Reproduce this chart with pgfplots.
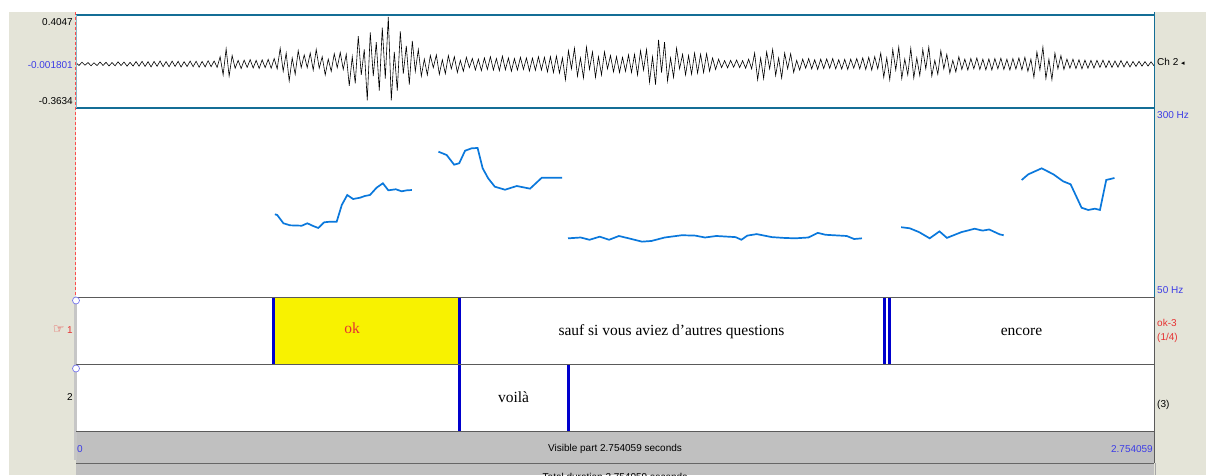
\documentclass[border=0pt]{standalone}
\usepackage{pgfplots}
\pgfplotsset{compat=1.18}
\usepackage{pgfplotstable}
\usepackage{fontspec}
\setmainfont{Liberation Sans}
\newfontfamily\serifp{Liberation Serif}
\newfontfamily\dejavu{DejaVu Sans}
\definecolor{beige}{RGB}{228,228,216}
\definecolor{barg}{RGB}{192,192,192}
\definecolor{frameb}{RGB}{20,110,150}
\definecolor{pitchc}{RGB}{10,120,220}
\definecolor{bnd}{RGB}{0,0,205}
\definecolor{yel}{RGB}{248,242,0}
\definecolor{lblb}{RGB}{60,60,230}
\definecolor{lblr}{RGB}{230,50,50}
\definecolor{tierl}{RGB}{90,90,90}

\pgfplotstableread[row sep=\\,header=false]{
0.010\\-0.012\\0.015\\-0.010\\0.012\\-0.015\\0.010\\-0.013\\0.016\\-0.012\\
0.014\\-0.016\\0.012\\-0.015\\0.018\\-0.013\\0.016\\-0.018\\0.014\\-0.017\\
0.020\\-0.018\\0.022\\-0.020\\0.019\\-0.024\\0.021\\-0.019\\0.025\\-0.022\\
0.020\\-0.023\\0.024\\-0.020\\0.022\\-0.025\\0.019\\-0.021\\0.024\\-0.022\\
0.023\\-0.026\\0.021\\-0.024\\0.027\\-0.022\\0.025\\-0.028\\
0.060\\-0.090\\0.125\\-0.100\\0.070\\
-0.035\\0.030\\-0.038\\0.032\\-0.028\\0.036\\-0.033\\0.030\\-0.037\\0.034\\-0.030\\0.038\\-0.035\\0.045\\
-0.040\\0.130\\-0.060\\0.090\\-0.140\\0.050\\-0.085\\0.110\\-0.030\\
0.075\\-0.030\\0.090\\-0.050\\0.120\\-0.035\\0.060\\-0.090\\0.040\\-0.060\\0.085\\-0.030\\0.095\\-0.045\\
0.080\\-0.180\\0.060\\-0.160\\0.230\\-0.090\\0.120\\-0.300\\0.260\\-0.100\\0.180\\-0.220\\0.300\\-0.120\\0.390\\-0.300\\0.100\\-0.220\\0.270\\-0.080\\0.150\\-0.170\\0.190\\-0.060\\0.120\\
-0.100\\0.040\\-0.090\\0.070\\-0.030\\0.075\\-0.085\\0.035\\-0.080\\0.070\\-0.040\\0.060\\-0.070\\0.030\\-0.060\\0.055\\-0.030\\
0.045\\-0.050\\0.040\\-0.055\\0.050\\-0.045\\0.060\\-0.050\\0.045\\-0.055\\0.065\\-0.048\\0.050\\-0.060\\0.045\\-0.050\\0.055\\-0.045\\0.050\\-0.058\\0.048\\-0.052\\0.060\\-0.050\\0.055\\-0.065\\0.060\\-0.070\\0.065\\-0.075\\
0.050\\-0.130\\0.110\\-0.040\\0.130\\-0.100\\0.050\\-0.115\\0.140\\-0.045\\0.100\\-0.110\\0.060\\-0.090\\0.100\\-0.040\\
0.070\\-0.065\\0.060\\-0.070\\0.055\\-0.060\\0.075\\-0.070\\0.080\\-0.090\\
0.110\\-0.050\\0.120\\-0.150\\0.060\\-0.170\\0.200\\-0.070\\0.180\\-0.140\\0.050\\-0.110\\0.130\\-0.040\\
0.080\\-0.090\\0.070\\-0.085\\0.090\\-0.075\\0.080\\-0.070\\0.085\\-0.060\\0.050\\-0.045\\0.040\\
-0.030\\0.028\\-0.032\\0.030\\-0.027\\0.033\\-0.030\\0.028\\-0.035\\0.040\\
-0.040\\0.090\\-0.130\\0.050\\-0.120\\0.100\\-0.040\\0.120\\-0.095\\0.050\\-0.115\\0.090\\-0.040\\0.085\\-0.070\\0.030\\-0.050\\
0.040\\-0.035\\0.045\\-0.040\\0.035\\-0.045\\0.040\\-0.038\\0.042\\-0.036\\0.045\\-0.040\\0.035\\-0.042\\0.038\\-0.045\\0.040\\-0.035\\0.045\\-0.040\\0.050\\-0.045\\0.055\\-0.050\\0.060\\
-0.040\\0.090\\-0.110\\0.050\\-0.130\\0.120\\-0.050\\0.140\\-0.120\\0.040\\-0.090\\0.130\\-0.115\\0.050\\-0.095\\0.120\\-0.040\\0.140\\-0.100\\0.030\\-0.085\\0.110\\-0.040\\0.080\\-0.075\\0.030\\-0.065\\0.060\\
-0.045\\0.040\\-0.050\\0.045\\-0.040\\0.050\\-0.045\\0.040\\-0.048\\0.042\\-0.050\\0.045\\-0.040\\0.048\\-0.045\\0.040\\-0.050\\0.045\\-0.042\\0.050\\-0.048\\0.055\\-0.060\\
0.040\\-0.110\\0.100\\-0.050\\0.140\\-0.120\\0.040\\-0.130\\0.090\\-0.040\\0.070\\
-0.045\\0.040\\-0.035\\0.040\\-0.038\\0.035\\-0.040\\0.032\\-0.035\\0.030\\-0.034\\0.030\\-0.028\\0.032\\-0.030\\0.027\\-0.028\\0.025\\-0.026\\0.028\\-0.024\\0.022\\-0.025\\0.021\\-0.020\\0.022\\-0.018\\0.020\\-0.017\\0.018\\-0.015\\
}\wave

\begin{document}
\begin{tikzpicture}[x=1pt,y=1pt]
\fill[white] (0,0) rectangle (1206,-475);
\fill[beige] (9,-12) rectangle (76,-475);
\fill[beige] (1154,-12) rectangle (1206,-475);
\fill[barg] (76,-431) rectangle (1154,-463);
\fill[barg] (76,-464) rectangle (1154,-475);
\draw[gray!80!black, line width=0.8pt] (76,-463.5) -- (1154,-463.5);
\fill[gray!45] (74,-297) rectangle (77,-460);

% waveform
\begin{axis}[at={(76pt,-15pt)}, anchor=north west, scale only axis,
  width=1078pt, height=93pt, xmin=0, xmax=2.754059,
  ymin=-0.3634, ymax=0.4047, hide axis, clip=false]
\addplot[black, line width=0.6pt, mark=none]
  table[x expr=\coordindex*0.0076715, y index=0] {\wave};
\end{axis}

% pitch
\begin{axis}[at={(76pt,-108pt)}, anchor=north west, scale only axis,
  width=1078pt, height=189pt, xmin=0, xmax=2.754059,
  ymin=50, ymax=300, hide axis]
\addplot[pitchc, line width=1.7pt, mark=none] coordinates {
(0.508,159.4) (0.514,158.5) (0.530,147.5) (0.547,144.8) (0.577,144.3)
(0.591,147.5) (0.606,143.9) (0.619,141.3) (0.634,148.8) (0.649,149.6)
(0.666,149.6) (0.679,171.7) (0.693,184.9) (0.708,179.6) (0.726,181.4)
(0.738,183.6) (0.751,184.9) (0.768,194.6) (0.784,200.4) (0.798,191.1)
(0.817,192.5) (0.832,189.8) (0.845,191.1) (0.858,191.5)};
\addplot[pitchc, line width=1.7pt, mark=none] coordinates {
(0.926,242.2) (0.947,237.8) (0.966,225.0) (0.979,226.9) (0.994,243.5)
(1.011,246.7) (1.026,247.1) (1.039,220.2) (1.053,207.0) (1.070,195.9)
(1.096,191.9) (1.126,196.8) (1.160,193.3) (1.190,207.8) (1.242,207.8)};
\addplot[pitchc, line width=1.7pt, mark=none] coordinates {
(1.257,127.6) (1.289,128.7) (1.312,125.7) (1.338,129.8) (1.362,125.7)
(1.387,130.7) (1.412,127.6) (1.446,123.2) (1.470,124.1) (1.504,128.7)
(1.548,131.7) (1.582,131.2) (1.607,128.7) (1.636,130.7) (1.685,129.2)
(1.700,125.7) (1.715,131.2) (1.739,133.2) (1.778,129.2) (1.807,128.2)
(1.837,127.6) (1.871,128.7) (1.895,134.8) (1.915,132.3) (1.969,130.7)
(1.988,126.7) (2.008,127.6)};
\addplot[pitchc, line width=1.7pt, mark=none] coordinates {
(2.108,142.3) (2.130,140.9) (2.154,135.8) (2.181,127.6) (2.206,136.8)
(2.225,128.2) (2.262,135.8) (2.296,140.3) (2.316,137.8) (2.333,139.3)
(2.360,132.8) (2.370,131.7)};
\addplot[pitchc, line width=1.7pt, mark=none] coordinates {
(2.416,204.8) (2.433,212.3) (2.467,220.2) (2.497,212.3) (2.522,203.0)
(2.541,199.1) (2.569,168.1) (2.586,165.1) (2.603,166.8) (2.616,165.1)
(2.632,204.8) (2.653,207.4)};
\end{axis}

% tiers
\begin{axis}[at={(76pt,-297pt)}, anchor=north west, scale only axis,
  width=1078pt, height=134pt, xmin=0, xmax=2.754059,
  ymin=0, ymax=2, hide axis, clip=false]
\addplot[fill=yel, draw=none] coordinates {(0.5033,1) (0.5033,2) (0.9785,2) (0.9785,1)} -- cycle;
\addplot[bnd, line width=3pt, mark=none] coordinates {(0.5033,1) (0.5033,2)};
\addplot[bnd, line width=3pt, mark=none] coordinates {(0.9785,0) (0.9785,2)};
\addplot[bnd, line width=3pt, mark=none] coordinates {(2.0643,1) (2.0643,2)};
\addplot[bnd, line width=3pt, mark=none] coordinates {(2.0771,1) (2.0771,2)};
\addplot[bnd, line width=3pt, mark=none] coordinates {(1.2570,0) (1.2570,1)};
\end{axis}

% frame lines
\draw[frameb, line width=1.4pt] (76,-15) -- (1154,-15);
\draw[frameb, line width=1.4pt] (76,-108) -- (1154,-108);
\draw[frameb, line width=1.2pt] (1154.5,-12) -- (1154.5,-297);
\draw[frameb!50, line width=0.6pt] (76.5,-15) -- (76.5,-108);
\draw[red!70, line width=0.4pt, densely dashed] (75.5,-12) -- (75.5,-297);
\draw[tierl, line width=1pt] (76,-297) -- (1154,-297);
\draw[tierl, line width=1pt] (76,-364) -- (1154,-364);
\draw[tierl, line width=1pt] (76,-431) -- (1154,-431);
\draw[tierl, line width=1pt] (1154.5,-297) -- (1154.5,-463);
\draw[gray!70, line width=1pt] (1155,-463) -- (1155,-475);
\draw[lblb!70, line width=0.7pt, fill=white] (76,-300.5) circle (3.5);
\draw[lblb!70, line width=0.7pt, fill=white] (76,-368.5) circle (3.5);

% tier texts
\node[anchor=base, text=lblr, font=\serifp\fontsize{15.5}{17}\selectfont] at (352,-333) {ok};
\node[anchor=base, font=\serifp\fontsize{15.5}{17}\selectfont] at (671.5,-335) {sauf si vous aviez d’autres questions};
\node[anchor=base, font=\serifp\fontsize{15.5}{17}\selectfont] at (1021.5,-335) {encore};
\node[anchor=base, font=\serifp\fontsize{15.5}{17}\selectfont] at (513.5,-402) {voilà};

% labels
\begin{scope}[every node/.style={font=\fontsize{10}{12}\selectfont, inner sep=0pt}]
\node[anchor=east] at (73,-22) {0.4047};
\node[anchor=east, text=lblb] at (73,-65) {-0.001801};
\node[anchor=east] at (73,-101) {-0.3634};
\node[anchor=west] at (1157,-62) {Ch 2 {\dejavu\fontsize{7}{8}\selectfont ◂}};
\node[anchor=west, text=lblb] at (1157,-115.5) {300 Hz};
\node[anchor=west, text=lblb] at (1157,-290.5) {50 Hz};
\node[anchor=west, text=lblr] at (1157,-322.5) {ok-3};
\node[anchor=west, text=lblr] at (1157,-338) {(1/4)};
\node[anchor=west] at (1157,-405) {(3)};
\node[anchor=east, text=lblr] at (73,-330) {{\dejavu\fontsize{13}{13}\selectfont ☞} 1};
\node[anchor=east] at (73,-397) {2};
\node[anchor=west, text=lblb] at (77,-449) {0};
\node[anchor=east, text=lblb] at (1153,-449) {2.754059};
\node[anchor=center] at (615,-449) {Visible part 2.754059 seconds};
\node[anchor=center, overlay] at (615,-477) {Total duration 2.754059 seconds};
\end{scope}
\end{tikzpicture}
\end{document}
